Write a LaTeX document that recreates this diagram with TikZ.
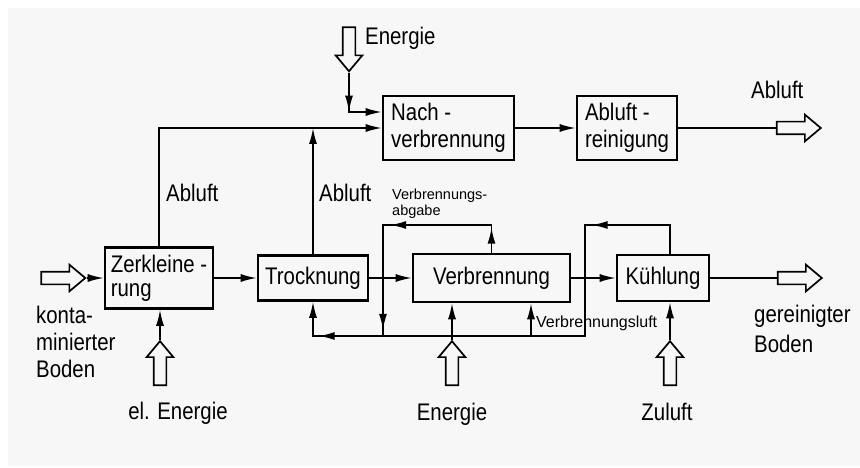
\documentclass[tikz,border=0pt]{standalone}
\usepackage{fontspec}
\setmainfont{Liberation Sans}[FakeStretch=0.85]
\newfontfamily\smallfont{Liberation Sans}
\usepackage{xcolor}
\usetikzlibrary{arrows.meta, shapes.arrows, decorations.markings}

\definecolor{paper}{HTML}{F7F7F7}

\tikzset{
  box/.style={draw, line width=2.6pt, inner sep=0pt, align=left},
  line/.style={line width=1.6pt},
  conn/.style={line, -{Latex[length=16pt, width=8pt]}},
  arrowat/.style={postaction={decorate, decoration={markings,
      mark=at position #1 with {\arrow{Latex[length=16pt, width=8pt]}}}}},
  hollow/.style={single arrow, draw, line width=1.7pt, fill=paper,
    inner xsep=0pt, inner ysep=5.5pt, single arrow head extend=7pt,
    single arrow tip angle=80, minimum height=44pt},
  lbl/.style={inner sep=0pt},
  small/.style={inner sep=0pt, font=\smallfont\fontsize{14.5}{16}\selectfont}
}

\begin{document}
\begin{tikzpicture}[x=1pt, y=-1pt, every node/.style={font=\fontsize{24}{27}\selectfont}]
  \useasboundingbox (0,0) rectangle (860,468);
  \fill[white] (0,0) rectangle (860,468);
  \fill[paper] (8,8) rectangle (860,466);

  % process boxes
  \node[box, minimum width=108pt, minimum height=61pt] (zerk) at (159,278) {Zerkleine -\\[-3pt]rung};
  \node[box, minimum width=110pt, minimum height=45pt] (trock) at (313,278) {Trocknung};
  \node[box, minimum width=157pt, minimum height=48pt] (verb) at (491.5,278) {Verbrennung};
  \node[box, minimum width=92pt, minimum height=46pt] (kuehl) at (663,278) {Kühlung};
  \node[box, minimum width=131pt, minimum height=64pt] (nach) at (448.5,128) {Nach -\\verbrennung};
  \node[box, minimum width=100pt, minimum height=64pt] (ablr) at (627,128) {Abluft -\\reinigung};

  % hollow arrows (inputs and outputs)
  \node[hollow] (inB) at (59.5,278) {};
  \node[hollow, rotate=90] (elE) at (160,367) {};
  \node[hollow, rotate=-90] (eT) at (349,45.5) {};
  \node[hollow, rotate=90] (eB) at (452,367) {};
  \node[hollow, rotate=90] (zu) at (670,367) {};
  \node[hollow] (outA) at (795,128) {};
  \node[hollow] (outB) at (796,278) {};

  % junctions
  \coordinate (abg) at (383,225);
  \coordinate (kt) at (585,225);
  \coordinate (kb) at (585,336);
  \coordinate (bl) at (383,336);
  \coordinate (vl) at (531,336);

  % main line
  \draw[conn] (inB.tip) -- (zerk.west);
  \draw[conn] (zerk) -- (trock);
  \draw[conn] (trock) -- (verb);
  \draw[conn] (verb) -- (kuehl);
  \draw[line] (kuehl) -- (outB.tail);
  \draw[conn] (elE.tip) -- (elE.tip |- zerk.south);
  \draw[conn] (eB.tip) -- (eB.tip |- verb.south);
  \draw[conn] (zu.tip) -- (zu.tip |- kuehl.south);

  % exhaust air
  \draw[conn] (zerk.north) |- (nach.west);
  \draw[conn] (trock.north) -- (trock.north |- nach.west);
  \draw[line, arrowat=39pt, -{Latex[length=16pt, width=8pt]}] (eT.tip) |- ([yshift=16pt]nach.west);
  \draw[conn] (nach) -- (ablr);
  \draw[line] (ablr) -- (outA.tail);

  % return loops
  \draw[line, arrowat=25pt, arrowat=129pt, arrowat=241pt] (verb.north) |- (abg) -- (bl);
  \draw[line, arrowat=107pt, arrowat=491pt, -{Latex[length=16pt, width=8pt]}]
    ([xshift=7pt]kuehl.north) |- (kt) -- (kb) -| (trock.south);
  \draw[conn] (vl) -- (vl |- verb.south);

  % labels
  \node[lbl, anchor=base west] (tEnO) at (365,45) {Energie};
  \node[lbl, anchor=base west] (tAbl1) at (166,202) {Abluft};
  \node[lbl, anchor=base west] (tAbl2) at (319,202) {Abluft};
  \node[lbl, anchor=base west] (tAbl3) at (751,99) {Abluft};
  \node[small, anchor=north west, align=left] (tAbg) at (392,189) {Verbrennungs-\\abgabe};
  \node[small, font=\smallfont\fontsize{16}{18}\selectfont, anchor=base west] (tVL) at (536,327) {Verbrennungsluft};
  \node[lbl, anchor=north west, align=left] (tBoden) at (36,305.5) {konta-\\minierter\\Boden};
  \node[lbl, anchor=north west, align=left] (tRein) at (754,305) {gereinigter\\[3pt]Boden};
  \node[lbl, anchor=base] (tElE) at (178,419) {el. Energie};
  \node[lbl, anchor=base] (tEnU) at (452,420) {Energie};
  \node[lbl, anchor=base] (tZu) at (667,420) {Zuluft};
\end{tikzpicture}
\end{document}
